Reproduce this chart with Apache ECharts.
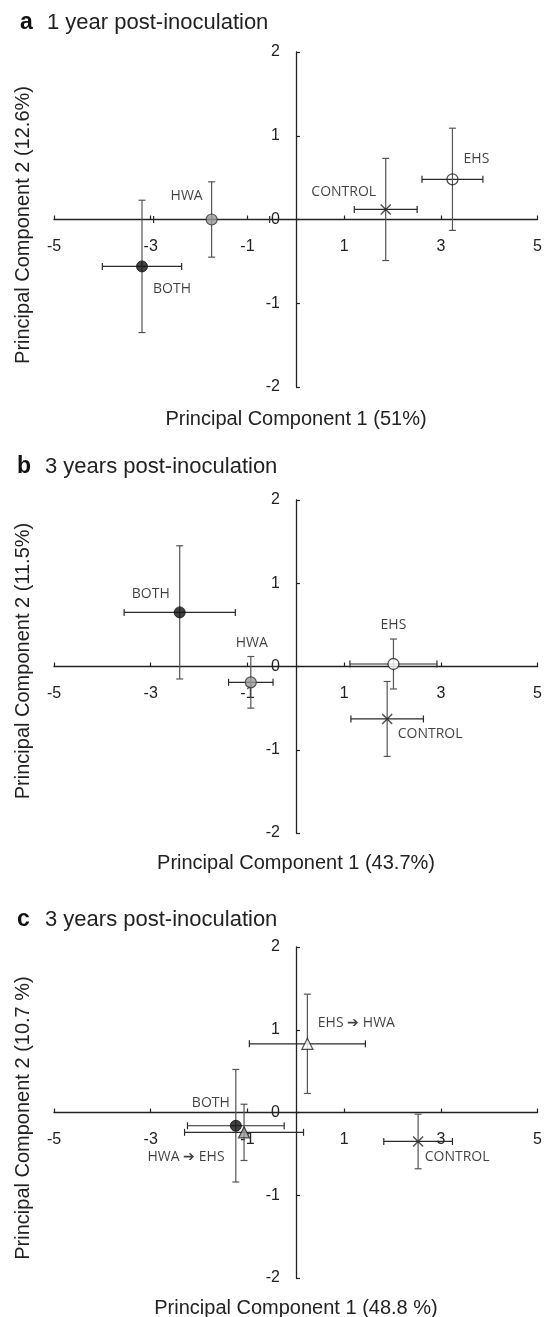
<!DOCTYPE html>
<html><head><meta charset="utf-8">
<script src="https://cdn.jsdelivr.net/npm/echarts@6/dist/echarts.min.js"></script>
<style>html,body{margin:0;padding:0;background:#fff}#c{width:545px;height:1317px}</style>
</head><body><div id="c"></div>
<script>
// ---------- data ----------
const panelLetters = ['a', 'b', 'c'];
const panelTitles = ['1 year post-inoculation', '3 years post-inoculation', '3 years post-inoculation'];
const xAxisTitles = ['Principal Component 1 (51%)', 'Principal Component 1 (43.7%)', 'Principal Component 1 (48.8 %)'];
const yAxisTitles = ['Principal Component 2 (12.6%)', 'Principal Component 2 (11.5%)', 'Principal Component 2 (10.7 %)'];

// panel a : 1 year
const groupsA = ['BOTH', 'HWA', 'CONTROL', 'EHS'];
const pc1A = [-3.18, -1.74, 1.86, 3.24];
const pc2A = [-0.56, 0.00, 0.12, 0.48];
const pc1ErrA = [0.82, 1.20, 0.65, 0.63];
const pc2ErrA = [0.79, 0.45, 0.61, 0.61];

// panel b : 3 years
const groupsB = ['BOTH', 'HWA', 'EHS', 'CONTROL'];
const pc1B = [-2.40, -0.93, 2.02, 1.89];
const pc2B = [0.65, -0.19, 0.03, -0.63];
const pc1ErrB = [1.15, 0.46, 0.90, 0.75];
const pc2ErrB = [0.80, 0.31, 0.30, 0.45];

// panel c : 3 years
const groupsC = ['BOTH', 'HWA \u2794 EHS', 'EHS \u2794 HWA', 'CONTROL'];
const pc1C = [-1.24, -1.07, 0.24, 2.53];
const pc2C = [-0.16, -0.24, 0.83, -0.35];
const pc1ErrC = [1.00, 1.23, 1.20, 0.71];
const pc2ErrC = [0.68, 0.34, 0.60, 0.33];

// ---------- styles (not data) ----------
const markerStyles = [
  { BOTH: 'black', HWA: 'grey', CONTROL: 'cross', EHS: 'openClear' },
  { BOTH: 'black', HWA: 'grey', CONTROL: 'cross', EHS: 'openWhite' },
  { 'BOTH': 'black', 'HWA \u2794 EHS': 'triGrey', 'EHS \u2794 HWA': 'triWhite', 'CONTROL': 'cross' }
];
const labelOffsets = [
  [[30, 23], [-25, -23], [-42, -17], [24, -20]],
  [[-29, -18], [1, -39], [0, -39], [43, 15]],
  [[-25, -23], [-58, 25], [49, -21], [39, 16]]
];
const symbolDefs = {
  black: { symbol: 'circle', symbolSize: 11, itemStyle: { color: '#111', borderColor: '#111', borderWidth: 1 } },
  grey: { symbol: 'circle', symbolSize: 11, itemStyle: { color: '#9a9a9a', borderColor: '#333', borderWidth: 1.2 } },
  openClear: { symbol: 'circle', symbolSize: 11, itemStyle: { color: 'rgba(0,0,0,0)', borderColor: '#222', borderWidth: 1.3 } },
  openWhite: { symbol: 'circle', symbolSize: 11, itemStyle: { color: '#fff', borderColor: '#222', borderWidth: 1.3 } },
  cross: { symbol: 'path://M0,0L10,10M10,0L0,10', symbolSize: 10, itemStyle: { color: 'rgba(0,0,0,0)', borderColor: '#222', borderWidth: 1.4 } },
  triGrey: { symbol: 'triangle', symbolSize: 11, itemStyle: { color: '#9a9a9a', borderColor: '#222', borderWidth: 1.2 } },
  triWhite: { symbol: 'triangle', symbolSize: 11, itemStyle: { color: '#fff', borderColor: '#222', borderWidth: 1.2 } }
};

const panels = [
  { g: groupsA, x: pc1A, y: pc2A, xe: pc1ErrA, ye: pc2ErrA },
  { g: groupsB, x: pc1B, y: pc2B, xe: pc1ErrB, ye: pc2ErrB },
  { g: groupsC, x: pc1C, y: pc2C, xe: pc1ErrC, ye: pc2ErrC }
];
const gridBoxes = [
  { left: 54, top: 52, width: 484, height: 335 },
  { left: 54, top: 500, width: 484, height: 333 },
  { left: 54, top: 947, width: 484, height: 331 }
];
const titleY = [23, 467, 920];
const titleLetterX = [20, 17, 17];
const titleTextX = [47, 45, 45];
const xTitleY = [419, 863, 1308];
const yTitleY = [225, 661, 1118];

const axisColor = '#222';
const tickFont = 'Liberation Sans, Arial, sans-serif';

function errRender(params, api) {
  const x = api.value(0), y = api.value(1), xe = api.value(2), ye = api.value(3);
  const c = api.coord([x, y]);
  const l = api.coord([x - xe, y]), r = api.coord([x + xe, y]);
  const t = api.coord([x, y + ye]), b = api.coord([x, y - ye]);
  const cap = 3.5;
  const hs = { stroke: '#2a2a2a', lineWidth: 1.2 };
  const vs = { stroke: '#555', lineWidth: 1.2 };
  return {
    type: 'group', children: [
      { type: 'line', shape: { x1: l[0], y1: c[1], x2: r[0], y2: c[1] }, style: hs },
      { type: 'line', shape: { x1: l[0], y1: c[1] - cap, x2: l[0], y2: c[1] + cap }, style: hs },
      { type: 'line', shape: { x1: r[0], y1: c[1] - cap, x2: r[0], y2: c[1] + cap }, style: hs },
      { type: 'line', shape: { x1: c[0], y1: t[1], x2: c[0], y2: b[1] }, style: vs },
      { type: 'line', shape: { x1: c[0] - cap, y1: t[1], x2: c[0] + cap, y2: t[1] }, style: vs },
      { type: 'line', shape: { x1: c[0] - cap, y1: b[1], x2: c[0] + cap, y2: b[1] }, style: vs }
    ]
  };
}

const grids = [], xAxes = [], yAxes = [], series = [], graphics = [];
panels.forEach((p, i) => {
  const gb = gridBoxes[i];
  grids.push(Object.assign({ containLabel: false }, gb));
  xAxes.push({
    type: 'value', gridIndex: i, min: -5, max: 5, interval: 2,
    position: 'bottom', offset: -gb.height / 2,
    axisLine: { onZero: false, lineStyle: { color: axisColor, width: 1.3 } },
    axisTick: { inside: true, length: 4, lineStyle: { color: axisColor, width: 1.2 } },
    axisLabel: { margin: 19, fontSize: 16, color: '#222', fontFamily: tickFont },
    splitLine: { show: false }
  });
  yAxes.push({
    type: 'value', gridIndex: i, min: -2, max: 2, interval: 1,
    position: 'left', offset: -gb.width / 2,
    axisLine: { onZero: false, lineStyle: { color: axisColor, width: 1.3 } },
    axisTick: { inside: true, length: 4, lineStyle: { color: axisColor, width: 1.2 } },
    axisLabel: { margin: 16, fontSize: 16, color: '#222', fontFamily: tickFont },
    splitLine: { show: false }
  });
  series.push({
    type: 'custom', xAxisIndex: i, yAxisIndex: i, clip: false, z: 2,
    renderItem: errRender,
    encode: { x: 0, y: 1 },
    data: p.g.map((_, k) => [p.x[k], p.y[k], p.xe[k], p.ye[k]])
  });
  series.push({
    type: 'scatter', xAxisIndex: i, yAxisIndex: i, z: 5, clip: false,
    data: p.g.map((name, k) => {
      const s = symbolDefs[markerStyles[i][name]];
      return {
        name: name, value: [p.x[k], p.y[k]],
        symbol: s.symbol, symbolSize: s.symbolSize, itemStyle: s.itemStyle,
        label: {
          show: true, position: 'inside', offset: labelOffsets[i][k], formatter: name,
          fontFamily: 'Open Sans, sans-serif', fontSize: 14, color: '#111', align: 'center', verticalAlign: 'middle'
        }
      };
    }),
    emphasis: { disabled: true }
  });
  graphics.push({
    type: 'text', x: titleLetterX[i], y: titleY[i],
    style: { text: panelLetters[i], font: 'bold 23px Liberation Sans, Arial, sans-serif', fill: '#111', verticalAlign: 'middle' }
  });
  graphics.push({
    type: 'text', x: titleTextX[i], y: titleY[i],
    style: { text: panelTitles[i], font: '22px Liberation Sans, Arial, sans-serif', fill: '#222', verticalAlign: 'middle' }
  });
  graphics.push({
    type: 'text', x: 296, y: xTitleY[i],
    style: { text: xAxisTitles[i], font: '20px Liberation Sans, Arial, sans-serif', fill: '#222', align: 'center', verticalAlign: 'middle' }
  });
  graphics.push({
    type: 'text', x: 23, y: yTitleY[i], rotation: Math.PI / 2,
    style: { text: yAxisTitles[i], font: '20px Liberation Sans, Arial, sans-serif', fill: '#222', align: 'center', verticalAlign: 'middle' }
  });
});

const chart = echarts.init(document.getElementById('c'), null, { renderer: 'canvas' });
chart.setOption({
  animation: false,
  backgroundColor: '#fff',
  grid: grids, xAxis: xAxes, yAxis: yAxes, series: series,
  graphic: { elements: graphics }
});
</script>
</body></html>
